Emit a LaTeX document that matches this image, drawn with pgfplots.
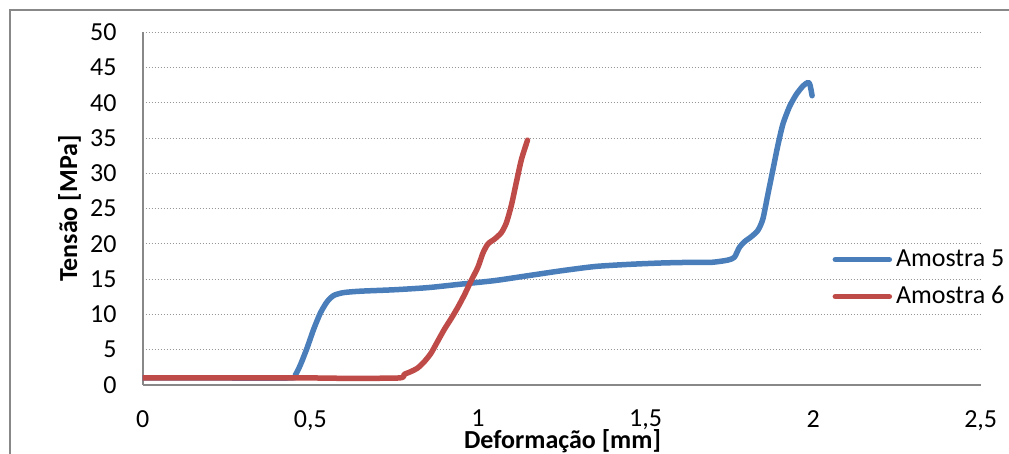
\documentclass[border=0pt]{standalone}
\usepackage{pgfplots}
\pgfplotsset{compat=1.18}
\usepackage{fontspec}
\setmainfont{Carlito}

\definecolor{serieA}{HTML}{4A7EBB}
\definecolor{serieB}{HTML}{BE4B48}
\definecolor{framegray}{HTML}{888888}
\definecolor{gridgray}{HTML}{969696}

% Amostra 5: deformação [mm] x tensão [MPa]
\pgfplotstableread{
x y
0.000 1.0
0.200 1.0
0.440 1.0
0.455 1.4
0.470 2.8
0.490 5.2
0.510 7.9
0.530 10.2
0.550 11.8
0.570 12.7
0.600 13.1
0.650 13.3
0.750 13.5
0.850 13.8
0.950 14.3
1.050 14.8
1.150 15.5
1.250 16.2
1.350 16.8
1.450 17.1
1.550 17.3
1.650 17.4
1.700 17.4
1.745 17.7
1.765 18.1
1.780 19.5
1.795 20.3
1.815 21.0
1.835 21.9
1.850 23.5
1.865 27.0
1.880 30.5
1.895 34.0
1.910 37.0
1.930 39.5
1.950 41.2
1.970 42.4
1.985 42.9
1.991 42.5
1.997 41.0
}\amostraA

% Amostra 6
\pgfplotstableread{
x y
0.000 1.0
0.300 1.0
0.500 1.0
0.600 0.95
0.765 1.0
0.780 1.5
0.800 1.9
0.820 2.4
0.840 3.3
0.860 4.5
0.880 6.2
0.900 7.9
0.920 9.4
0.940 11.0
0.960 12.8
0.980 14.8
1.000 16.7
1.015 18.7
1.030 20.0
1.050 20.7
1.070 21.6
1.085 23.0
1.100 25.5
1.115 28.8
1.130 32.0
1.148 34.7
}\amostraB

\begin{document}
\begin{tikzpicture}[x=1pt,y=1pt]
\useasboundingbox (0,0) rectangle (1009,454);
% chart area frame
\draw[framegray, line width=1.5pt] (10,0) -- (10,444) -- (1009,444);
\begin{axis}[
  at={(142.7pt,69pt)}, anchor=south west,
  scale only axis, width=838pt, height=352.7pt,
  xmin=0, xmax=2.5, ymin=0, ymax=50,
  xtick={0,0.5,...,2.5}, ytick={0,5,...,50},
  axis x line*=bottom, axis y line*=left,
  axis line style={draw=framegray, line width=1.8pt, -},
  major tick length=0pt,
  ymajorgrids,
  major grid style={gridgray, line width=1pt, dotted},
  /pgf/number format/.cd, use comma, 1000 sep={}, assume math mode=true,
  /pgfplots/.cd,
  tick label style={font=\fontsize{26}{30}\selectfont, text=black},
  xticklabel style={anchor=north, inner sep=0pt, yshift=-25pt, text depth=0pt},
  yticklabel style={anchor=east, inner sep=0pt, xshift=-26pt},
  xlabel={\textbf{Deformação [mm]}},
  ylabel={\textbf{Tensão [MPa]}},
  label style={font=\fontsize{26}{30}\selectfont},
  xlabel style={at={(axis description cs:0.501,0)}, anchor=center, inner sep=0pt,
    yshift=-58pt, text height=17pt, text depth=5pt},
  ylabel style={at={(axis description cs:-0.0872,0.5)}, anchor=center, inner sep=0pt},
  legend cell align=left,
  legend style={at={(axis description cs:0.823,0.303)}, anchor=west,
    draw=none, fill=none, inner sep=0pt, row sep=14pt, column sep=4pt,
    font=\fontsize{26}{30}\selectfont,
    nodes={inner sep=0pt, text height=18pt, text depth=5pt}},
  legend image code/.code={\draw[#1, line width=5.5pt, line cap=round] (0pt,0pt) -- (54pt,0pt);},
]
\addplot[serieA, line width=5.5pt, smooth, tension=0.4, line join=round, line cap=round] table[x=x,y=y] {\amostraA};
\addlegendentry{Amostra 5}
\addplot[serieB, line width=5.5pt, smooth, tension=0.4, line join=round, line cap=round] table[x=x,y=y] {\amostraB};
\addlegendentry{Amostra 6}
\end{axis}
\end{tikzpicture}
\end{document}
